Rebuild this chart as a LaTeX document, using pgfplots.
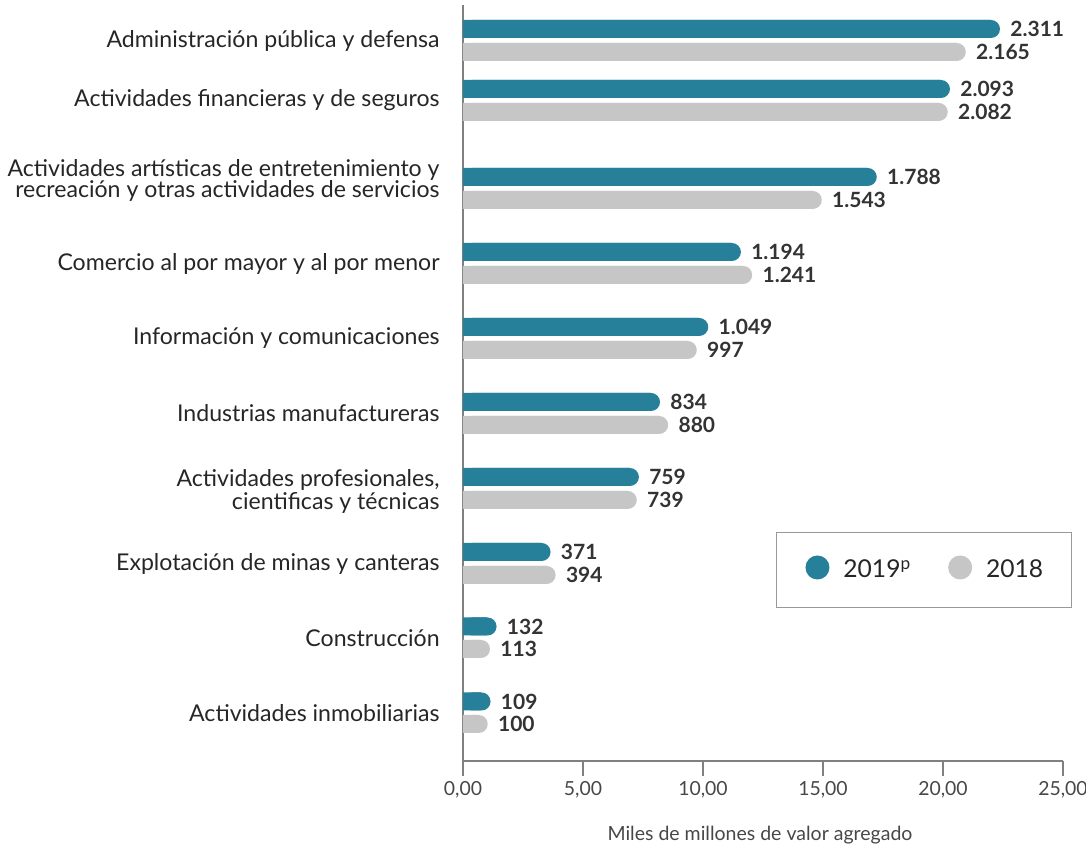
\documentclass[border=0pt]{standalone}
\usepackage{pgfplots}
\pgfplotsset{compat=1.18}
\usepackage{pgfplotstable}
\usepackage{fontspec}
\setmainfont{Lato}
\definecolor{teal19}{HTML}{27809A}
\definecolor{gray18}{HTML}{C6C6C6}
\definecolor{txt}{HTML}{262626}
\definecolor{lbl}{HTML}{333333}
\definecolor{axc}{HTML}{808080}

\pgfplotstableread{
y v lab
-29 22.375 2.311
-89 20.29 2.093
-177 17.24 1.788
-252 11.58 1.194
-327 10.22 1.049
-402 8.21 834
-477 7.33 759
-552 3.65 371
-626.5 1.40 132
-701.5 1.15 109
}\dataA
\pgfplotstableread{
y v lab
-52 20.95 2.165
-112 20.20 2.082
-200 14.95 1.543
-275 12.05 1.241
-350 9.74 997
-425 8.55 880
-500 7.24 739
-575 3.86 394
-649 1.125 113
-724 1.03 100
}\dataB

\begin{document}
\begin{tikzpicture}
\begin{axis}[
  name=ax,
  x=12pt, y=0.5pt,
  xmin=0, xmax=25, ymin=-761, ymax=-5,
  axis x line*=bottom, axis y line*=left,
  axis line style={draw=axc, line width=0.7pt},
  xtick={0,5,10,15,20,25},
  xticklabels={{0,00},{5,00},{10,00},{15,00},{20,00},{25,00}},
  x tick style={draw=axc, line width=0.6pt},
  tick align=outside, major tick length=7.5pt,
  xticklabel style={font=\fontsize{9.7}{11}\selectfont, text=black!72, anchor=center, yshift=-7pt},
  ytick={-712.75,-637.75,-563.5,-491.5,-413.5,-338.5,-263.5,-180.5,-100.5,-40.5},
  yticklabels={{Actividades inmobiliarias},{Construcción},{Explotación de minas y canteras},{Actividades profesionales,\\ cientificas y técnicas},{Industrias manufactureras},{Información y comunicaciones},{Comercio al por mayor y al por menor},{Actividades artísticas de entretenimiento y\\[-1.2pt] recreación y otras actividades de servicios},{Actividades financieras y de seguros},{Administración pública y defensa}},
  y tick style={draw=none},
  yticklabel style={align=right, font=\fontsize{11.55}{10.4}\selectfont, text=txt, anchor=east, inner sep=0pt, xshift=-4pt},
  xlabel={Miles de millones de valor agregado},
  xlabel style={at={(axis description cs:0.495,0)}, anchor=center, yshift=-37pt, font=\fontsize{9.75}{11}\selectfont, text=black!72},
  xbar, bar width=9pt, bar shift=0pt,
  legend columns=2,
  legend style={at={(axis cs:13.04,-532)}, anchor=north west, draw=black!40, line width=0.5pt,
    font=\fontsize{12.3}{14}\selectfont, text=txt, inner xsep=12pt, inner ysep=11.5pt,
    /tikz/every even column/.append style={column sep=14pt}},
  every node near coord/.append style={anchor=west, inner sep=0pt, xshift=5pt, font=\fontsize{10.5}{12}\bfseries, text=lbl},
]
\addplot[fill=teal19, draw=none, forget plot] table[x expr=\thisrow{v}-0.4, y=y] {\dataA};
\addplot[fill=teal19, draw=none, rounded corners=4.5pt, nodes near coords, point meta=explicit symbolic,
  legend image code/.code={\path (0pt,0pt); \fill[teal19] (8.5pt,0.3ex) circle (6pt); \path (19.5pt,0pt);}] table[x=v, y=y, meta=lab] {\dataA};
\addlegendentry{2019\textsuperscript{p}}
\addplot[fill=gray18, draw=none, forget plot] table[x expr=\thisrow{v}-0.4, y=y] {\dataB};
\addplot[fill=gray18, draw=none, rounded corners=4.5pt, nodes near coords, point meta=explicit symbolic,
  legend image code/.code={\path (0pt,0pt); \fill[gray18] (8.5pt,0.3ex) circle (6pt); \path (19.5pt,0pt);}] table[x=v, y=y, meta=lab] {\dataB};
\addlegendentry{2018}
\end{axis}
\pgfresetboundingbox
\path[use as bounding box] ([xshift=-231.5pt,yshift=-42pt]ax.south west) rectangle ([xshift=11.5pt,yshift=2.5pt]ax.north east);
\end{tikzpicture}
\end{document}
